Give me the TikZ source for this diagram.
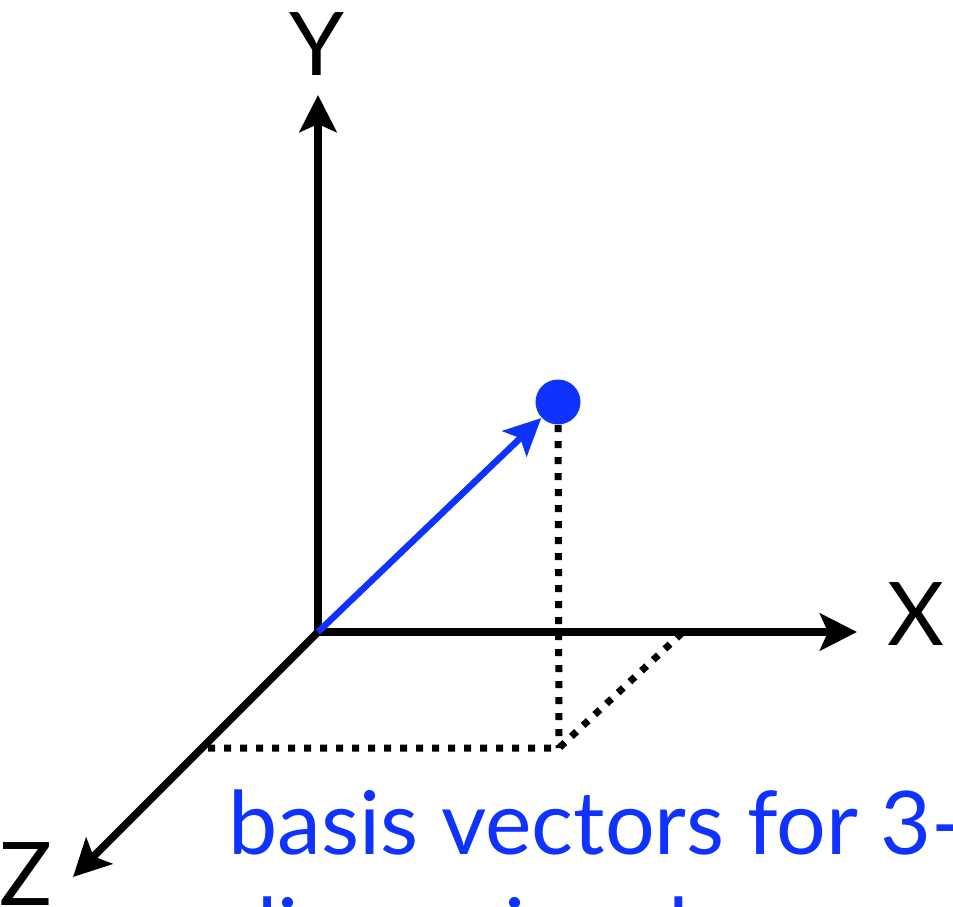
\documentclass[tikz,border=0pt]{standalone}
\usepackage{fontspec}
\setmainfont{Lato}
\usetikzlibrary{arrows.meta}
\definecolor{vecblue}{RGB}{16,50,255}
\tikzset{
  axis/.style={line width=0.075cm, -{Stealth[length=0.37cm,width=0.37cm,inset=0.08cm]}},
  vector/.style={vecblue, line width=0.065cm, -{Stealth[length=0.37cm,width=0.35cm,inset=0.08cm]}},
  proj/.style={line width=0.07cm, dash pattern=on 0.07cm off 0.09cm},
  lbl/.style={font=\fontsize{25}{30.2}\selectfont, inner sep=0pt},
}
\begin{document}
\begin{tikzpicture}
        \useasboundingbox (0,0) rectangle (9.53,9.06);
        \coordinate (origin) at (3.18,2.74);
        \coordinate (xend) at (8.57,2.74);
        \coordinate (yend) at (3.18,8.11);
        \coordinate (zend) at (0.73,0.29);
        \coordinate (foot) at (5.59,1.58);
        \coordinate (zfoot) at (2.08,1.58);
        \coordinate (xfoot) at (6.83,2.74);
        \node[circle, fill=vecblue, inner sep=0pt, minimum size=0.45cm] (point) at (5.58,5.04) {};
        \draw[proj] (zfoot) -- (foot) -- (xfoot);
        \draw[proj] (point) -- (foot);
        \draw[axis] (origin) -- (yend);
        \draw[axis] (origin) -- (xend);
        \draw[axis] (origin) -- (zend);
        \draw[vector] (origin) -- (point);
        \node[lbl, anchor=base] (ylabel) at (3.17,8.30) {Y};
        \node[lbl, anchor=base west] (xlabel) at (8.87,2.61) {X};
        \node[lbl, anchor=base] (zlabel) at (0.26,0.01) {Z};
        \node[lbl, anchor=base west, align=left, text=vecblue] (caption) at (2.28,-0.55) {basis vectors for 3-\\dimensional space};
    \end{tikzpicture}
\end{document}
